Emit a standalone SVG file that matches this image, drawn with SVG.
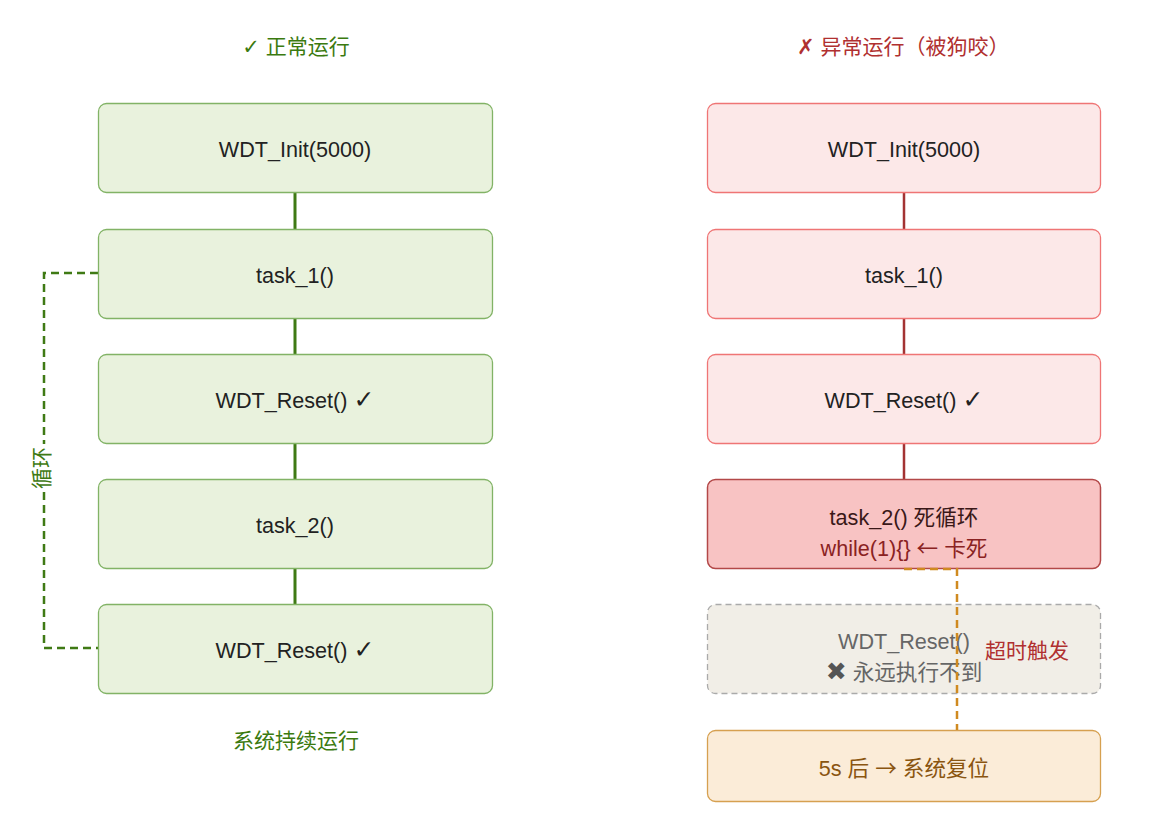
<svg xmlns="http://www.w3.org/2000/svg" width="1149" height="829" viewBox="0 0 1149 829">
<style>
text{font-family:"Liberation Sans","Noto Sans CJK SC",sans-serif;font-size:21.6px;text-anchor:middle}
.h{font-size:21px}
.g{fill:#e9f2dd;stroke:#82b366;stroke-width:1.3}
.r{fill:#fce8e8;stroke:#ef7575;stroke-width:1.3}
.t{fill:#222}
.s{font-family:"DejaVu Sans",sans-serif}
.c{font-family:"DejaVu Sans",sans-serif;font-size:25px}
.a{font-family:"Noto Sans CJK SC",sans-serif}
</style>
<rect width="1149" height="829" fill="#fff"/>
<text class="h" x="296" y="54" fill="#3b7a0f"><tspan class="s">✓</tspan> 正常运行</text>
<text class="h" x="903" y="54" fill="#b03030">✗ 异常运行（被狗咬）</text>
<g id="connectors">
<path d="M295 192V229M295 318V354M295 443V479M295 568V604" stroke="#3f7a14" stroke-width="3" fill="none"/>
<path d="M904 192V229M904 318V354M904 443V479" stroke="#a33333" stroke-width="2.5" fill="none"/>
<path d="M98 273H44V648H98" stroke="#3f7a14" stroke-width="2.5" stroke-dasharray="8 5" fill="none"/>
<rect x="30" y="444" width="26" height="48" fill="#fff"/>
<text class="h" transform="translate(42 468) rotate(-90)" dy="7" fill="#3f7a14">循环</text>
</g>
<g id="l1"><rect class="g" x="98.5" y="103.5" width="394" height="89" rx="8"/><text class="t" x="295" y="157">WDT_Init(5000)</text></g>
<g id="l2"><rect class="g" x="98.5" y="229.5" width="394" height="89" rx="8"/><text class="t" x="295" y="283">task_1()</text></g>
<g id="l3"><rect class="g" x="98.5" y="354.5" width="394" height="89" rx="8"/><text class="t" x="295" y="408">WDT_Reset() <tspan class="c">✓</tspan></text></g>
<g id="l4"><rect class="g" x="98.5" y="479.5" width="394" height="89" rx="8"/><text class="t" x="295" y="533">task_2()</text></g>
<g id="l5"><rect class="g" x="98.5" y="604.5" width="394" height="89" rx="8"/><text class="t" x="295" y="658">WDT_Reset() <tspan class="c">✓</tspan></text></g>
<text class="h" x="296" y="748" fill="#3b7a0f">系统持续运行</text>
<g id="r1"><rect class="r" x="707.5" y="103.5" width="393" height="89" rx="8"/><text class="t" x="904" y="157">WDT_Init(5000)</text></g>
<g id="r2"><rect class="r" x="707.5" y="229.5" width="393" height="89" rx="8"/><text class="t" x="904" y="283">task_1()</text></g>
<g id="r3"><rect class="r" x="707.5" y="354.5" width="393" height="89" rx="8"/><text class="t" x="904" y="408">WDT_Reset() <tspan class="c">✓</tspan></text></g>
<g id="r4"><rect x="707.5" y="479.5" width="393" height="89" rx="8" fill="#f8c3c3" stroke="#b34848" stroke-width="1.5"/><text x="904" y="525" fill="#3a1818">task_2() 死循环</text><text x="904" y="556" fill="#8a2222">while(1){} <tspan class="a">←</tspan> 卡死</text></g>
<g id="r5"><rect x="707.5" y="604.5" width="393" height="89" rx="8" fill="#f1eee7" stroke="#aaa" stroke-width="1.3" stroke-dasharray="6 4"/><text x="904" y="649" fill="#666">WDT_Reset()</text><text x="904" y="680" fill="#666"><tspan class="c" fill="#555">✖</tspan> 永远执行不到</text></g>
<g id="r6"><rect x="707.5" y="730.5" width="393" height="71" rx="8" fill="#fbecd8" stroke="#d6a050" stroke-width="1.3"/><text x="904" y="776" fill="#8a5510">5s 后 <tspan class="a">→</tspan> 系统复位</text></g>
<g id="timeout">
<path d="M904 569H957V730" stroke="#d08a20" stroke-width="2.5" stroke-dasharray="8 5" fill="none"/>
<text class="h" x="1027" y="658" fill="#b03030">超时触发</text>
</g>
</svg>
